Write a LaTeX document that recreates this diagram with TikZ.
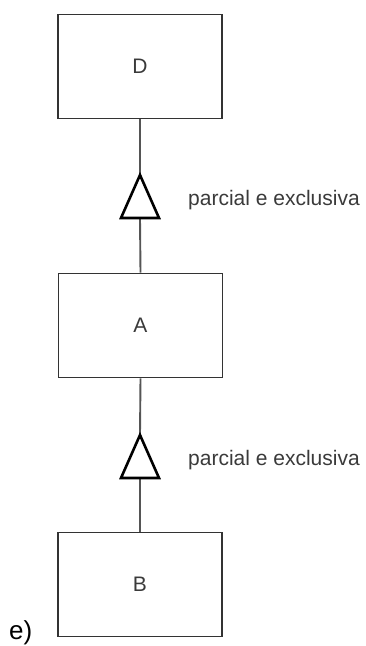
\documentclass[tikz,border=0pt]{standalone}
\usepackage{fontspec}
\setmainfont{Liberation Sans}
\definecolor{boxgray}{HTML}{333333}
\definecolor{linegray}{HTML}{555555}
\definecolor{textgray}{HTML}{3A3A3A}
\usetikzlibrary{positioning}

\begin{document}
\begin{tikzpicture}[x=1pt,y=-1pt,
    entity/.style={draw=boxgray,line width=1.6pt,minimum width=164pt,minimum height=104pt,
      inner sep=0pt,text=textgray,font=\fontsize{21}{25}\selectfont},
    link/.style={draw=linegray,line width=1.9pt},
    gen/.style={draw=black,line width=2.6pt,line join=miter,fill=white},
    note/.style={anchor=west,inner sep=0pt,text=textgray,font=\fontsize{21}{25}\selectfont}]
      \useasboundingbox (0,0) rectangle (366,646);
      \node[entity] (D) at (140,66.5) {D};
      \node[entity] (A) at (140.5,325.5) {A};
      \node[entity] (B) at (140,584.5) {B};
      \foreach \tri/\up/\down/\ytop in {g1/D/A/175,g2/A/B/435}{
        \coordinate (\tri-apex) at (140,\ytop);
        \coordinate (\tri-base) at (140,\ytop+43);
        \draw[link] (\up.south) -- (\tri-apex);
        \draw[link] (\tri-base) -- (\down.north);
        \draw[gen] (\tri-apex) -- ++(19,43) -- ++(-38,0) -- cycle;
        \node[note] (\tri-note) at (188,\ytop+25) {parcial e exclusiva};
      }
      \node[anchor=base west,inner sep=0pt,font=\fontsize{26}{30}\selectfont] (item) at (9,639) {e)};
    \end{tikzpicture}
\end{document}
